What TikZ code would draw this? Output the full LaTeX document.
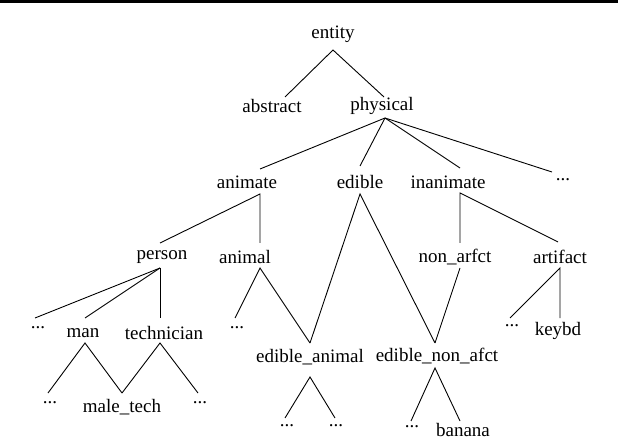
\documentclass[tikz,border=0pt]{standalone}
\usepackage{fontspec}
\setmainfont{Liberation Serif}
\begin{document}
\begin{tikzpicture}[x=1pt,y=-1pt,
  lbl/.style={inner sep=0pt,font=\fontsize{19}{21}\selectfont},
  edge/.style={line width=0.9pt}]
\useasboundingbox (0,0) rectangle (618,438);
\fill (0,0) rectangle (618,3.5);
% nodes
\node[lbl] (entity) at (333,34) {entity};
\node[lbl] (abstract) at (272,106) {abstract};
\node[lbl] (physical) at (382,106) {physical};
\node[lbl] (animate) at (247,182) {animate};
\node[lbl] (edible) at (360,182) {edible};
\node[lbl] (inanimate) at (448,182) {inanimate};
\node[lbl] (dots0) at (563,180) {...};
\node[lbl] (person) at (162,257) {person};
\node[lbl] (animal) at (245,257) {animal};
\node[lbl] (nonarfct) at (455,257) {non\_arfct};
\node[lbl] (artifact) at (560,257) {artifact};
\node[lbl] (dots1) at (38,328) {...};
\node[lbl] (man) at (83,333) {man};
\node[lbl] (technician) at (164,333) {technician};
\node[lbl] (dots2) at (237,328) {...};
\node[lbl] (dots3) at (512,326) {...};
\node[lbl] (keybd) at (558,331) {keybd};
\node[lbl] (edan) at (310,357) {edible\_animal};
\node[lbl] (ednon) at (437,356) {edible\_non\_afct};
\node[lbl] (dots4) at (50,403) {...};
\node[lbl] (maletech) at (122,407) {male\_tech};
\node[lbl] (dots5) at (200,403) {...};
\node[lbl] (dots6) at (287,426) {...};
\node[lbl] (dots7) at (336,426) {...};
\node[lbl] (dots8) at (412,427) {...};
\node[lbl] (banana) at (463,430) {banana};
% connection points
\coordinate (entityB) at (333,50);
\coordinate (abstractT) at (285,97);
\coordinate (physicalT) at (384,97);
\coordinate (physicalB) at (385,118);
\coordinate (animateT) at (260,169);
\coordinate (edibleT) at (360,166);
\coordinate (inanimateT) at (460,168);
\coordinate (dots0T) at (552,172);
\coordinate (animateB) at (260,194);
\coordinate (edibleB) at (360,194);
\coordinate (inanimateB) at (460,193);
\coordinate (personT) at (160,243);
\coordinate (animalT) at (260,243);
\coordinate (nonarfctT) at (460,243);
\coordinate (artifactT) at (558,242);
\coordinate (personB) at (160,268);
\coordinate (animalB) at (260,268);
\coordinate (nonarfctB) at (460,268);
\coordinate (artifactB) at (560,268);
\coordinate (dots1T) at (35,318);
\coordinate (manT) at (85,318);
\coordinate (technicianT) at (160,318);
\coordinate (dots2T) at (235,318);
\coordinate (dots3T) at (510,318);
\coordinate (keybdT) at (560,318);
\coordinate (edanT) at (310,343);
\coordinate (ednonT) at (435,343);
\coordinate (manB) at (85,343);
\coordinate (technicianB) at (160,343);
\coordinate (dots4T) at (48,393);
\coordinate (maletechT) at (122,393);
\coordinate (dots5T) at (198,393);
\coordinate (edanB) at (310,377);
\coordinate (ednonB) at (435,368);
\coordinate (dots6T) at (285,418);
\coordinate (dots7T) at (335,418);
\coordinate (dots8T) at (411,421);
\coordinate (bananaT) at (460,421);
% edges
\draw[edge] (abstractT) -- (entityB) -- (physicalT);
\foreach \c in {animateT,edibleT,inanimateT,dots0T} \draw[edge] (physicalB) -- (\c);
\draw[edge] (personT) -- (animateB) -- (animalT);
\draw[edge] (edanT) -- (edibleB) -- (ednonT);
\draw[edge] (nonarfctT) -- (inanimateB) -- (artifactT);
\foreach \c in {dots1T,manT,technicianT} \draw[edge] (personB) -- (\c);
\draw[edge] (dots2T) -- (animalB) -- (edanT);
\draw[edge] (nonarfctB) -- (ednonT);
\draw[edge] (dots3T) -- (artifactB) -- (keybdT);
\draw[edge] (dots4T) -- (manB) -- (maletechT);
\draw[edge] (maletechT) -- (technicianB) -- (dots5T);
\draw[edge] (dots6T) -- (edanB) -- (dots7T);
\draw[edge] (dots8T) -- (ednonB) -- (bananaT);
\end{tikzpicture}
\end{document}
